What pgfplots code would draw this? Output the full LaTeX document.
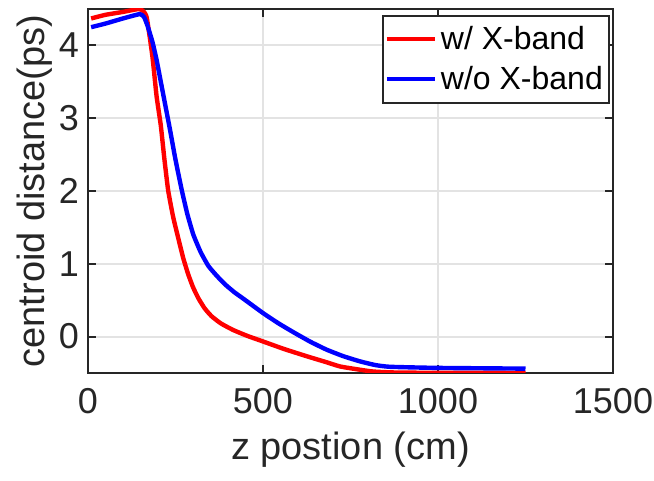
\documentclass[border=0pt]{standalone}
\usepackage{fontspec}
\setmainfont{Liberation Sans}
\usepackage{pgfplots}
\pgfplotsset{compat=1.18}
\definecolor{axgray}{RGB}{38,38,38}
\begin{document}
\begin{tikzpicture}
\path[use as bounding box] (-44pt,-54pt) rectangle (283pt,186.5pt);
\begin{axis}[
  at={(0pt,0pt)}, anchor=south west,
  scale only axis, width=262.5pt, height=182pt,
  xmin=0, xmax=1500, ymin=-0.5, ymax=4.5,
  xtick={0,500,1000,1500}, ytick={0,1,2,3,4},
  tick align=inside, tick pos=both,
  major tick length=4pt,
  axis line style={axgray, line width=1pt},
  every tick/.style={axgray, line width=1pt},
  grid=major,
  major grid style={gray!22, line width=1pt},
  /pgf/number format/assume math mode=true,
  /pgf/number format/set thousands separator={},
  ticklabel style={font=\fontsize{18}{21}\selectfont, text=axgray},
  xticklabel style={yshift=-4pt},
  yticklabel style={xshift=-1pt},
  xlabel={z postion (cm)},
  ylabel={centroid distance(ps)},
  label style={font=\fontsize{19}{22}\selectfont, text=axgray},
  xlabel style={at={(axis description cs:0.5,0)}, anchor=center, yshift=-38.5pt},
  ylabel style={at={(axis description cs:0,0.5)}, anchor=center, xshift=0pt, yshift=26.5pt},
  legend style={at={(0.994,0.983)}, anchor=north east, draw=axgray, line width=1pt,
    font=\fontsize{16}{19}\selectfont, text=black, inner xsep=1pt, inner ysep=3pt, row sep=3pt,
    legend cell align=left},
  legend image code/.code={\draw[#1, line width=2pt] (0pt,0pt) -- (24pt,0pt);},
]
\addplot[red, line width=2.2pt, line join=round, smooth, tension=0.3] coordinates {
 (9,4.37) (50,4.42) (100,4.46) (145,4.50) (158,4.47) (168,4.38) (184,3.85)
 (196,3.30) (208,2.90) (218,2.45) (229,2.01) (243,1.65) (258,1.35) (272,1.08) (286,0.86) (300,0.68) (315,0.53) (333,0.39) (353,0.28)
 (380,0.18) (415,0.09) (455,0.01) (496,-0.06) (560,-0.17) (625,-0.27) (680,-0.35) (720,-0.41) (770,-0.45) (815,-0.48) (900,-0.495) (1250,-0.50)
};
\addlegendentry{w/ X-band}
\addplot[blue, line width=2.2pt, line join=round, smooth, tension=0.3] coordinates {
 (9,4.25) (50,4.30) (100,4.37) (148,4.43) (160,4.39) (170,4.27) (184,4.05) (196,3.80)
 (208,3.50) (220,3.20) (234,2.85) (250,2.43) (268,2.01) (284,1.68) (301,1.40) (322,1.16) (344,0.97) (367,0.84) (391,0.72) (418,0.61) (444,0.52)
 (501,0.32) (545,0.18) (587,0.06) (635,-0.07) (682,-0.18) (730,-0.27) (777,-0.34) (820,-0.39) (863,-0.415) (1000,-0.43) (1250,-0.44)
};
\addlegendentry{w/o X-band}
\end{axis}
\end{tikzpicture}
\end{document}
